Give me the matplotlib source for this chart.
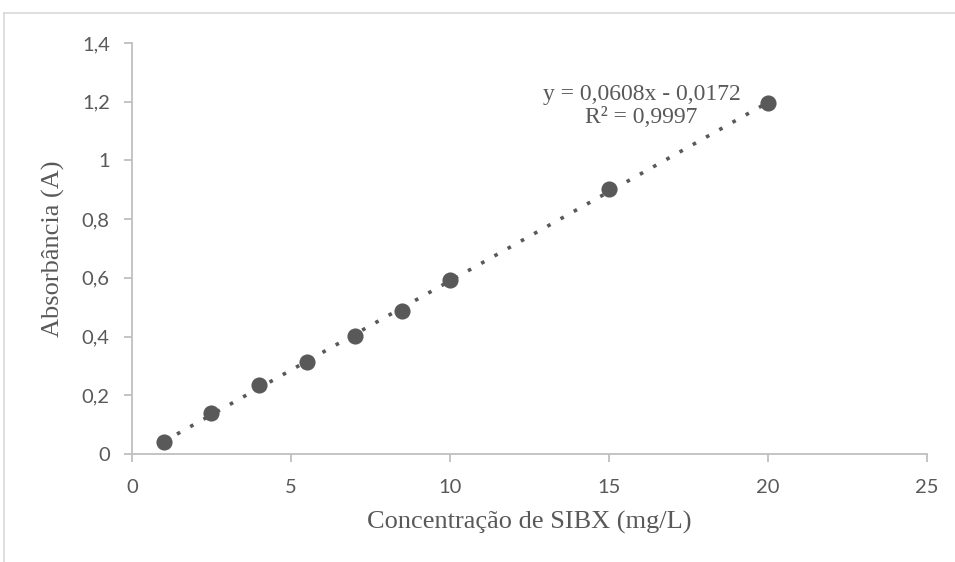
import numpy as np
import matplotlib
matplotlib.use('Agg')
import matplotlib.pyplot as plt
from matplotlib.lines import Line2D

# data
conc = [1, 2.5, 4, 5.5, 7, 8.5, 10, 15, 20]
absorb = [0.041, 0.138, 0.234, 0.312, 0.402, 0.487, 0.592, 0.903, 1.195]
x_ticks = [0, 5, 10, 15, 20, 25]
y_ticks = [0, 0.2, 0.4, 0.6, 0.8, 1.0, 1.2, 1.4]
y_tick_labels = ['0', '0,2', '0,4', '0,6', '0,8', '1', '1,2', '1,4']
equation = 'y = 0,0608x - 0,0172'
r2_text = 'R² = 0,9997'

gray = '#595959'
axis_gray = '#bfbfbf'

fig = plt.figure(figsize=(9.55, 5.62), dpi=100)
ax = fig.add_axes([0.1382, 0.1922, 0.8325, 0.7313])

# trendline from a linear fit
slope, intercept = np.polyfit(conc, absorb, 1)
xs = np.array([conc[0], conc[-1]])
ax.plot(xs, slope * xs + intercept, color=gray, linewidth=2.6,
        linestyle=(0, (1, 3.2)), zorder=2)

ax.scatter(conc, absorb, s=135, color=gray, zorder=3, linewidths=0)

ax.set_xlim(0, 25)
ax.set_ylim(0, 1.4)
ax.set_xticks(x_ticks)
ax.set_yticks(y_ticks)
ax.set_yticklabels(y_tick_labels)

for side in ['top', 'right']:
    ax.spines[side].set_visible(False)
for side in ['left', 'bottom']:
    ax.spines[side].set_color(axis_gray)
    ax.spines[side].set_linewidth(1.3)

ax.tick_params(axis='both', colors=axis_gray, labelcolor=gray, length=6,
               width=1.3, labelsize=14.5, direction='out')
ax.tick_params(axis='x', pad=12)
ax.tick_params(axis='y', pad=10)
for lbl in ax.get_xticklabels() + ax.get_yticklabels():
    lbl.set_fontfamily('Lato')

ax.set_xlabel('Concentração de SIBX (mg/L)', fontsize=19, color=gray,
              family='Liberation Serif', labelpad=11)
ax.set_ylabel('Absorbância (A)', fontsize=19, color=gray,
              family='Liberation Serif', labelpad=12)

ax.text(0.641, 0.846, equation + '\n' + r2_text, transform=ax.transAxes,
        ha='center', va='center', fontsize=17, color=gray,
        family='Liberation Serif', linespacing=1.12)

# outer chart border (only top and left are inside the crop)
fig.add_artist(Line2D([0.0047, 0.0047], [0, 0.977], transform=fig.transFigure,
                      color='#d9d9d9', linewidth=1.2))
fig.add_artist(Line2D([0.0047, 1.0], [0.977, 0.977], transform=fig.transFigure,
                      color='#d9d9d9', linewidth=1.2))

fig.savefig('out.png', dpi=100)
